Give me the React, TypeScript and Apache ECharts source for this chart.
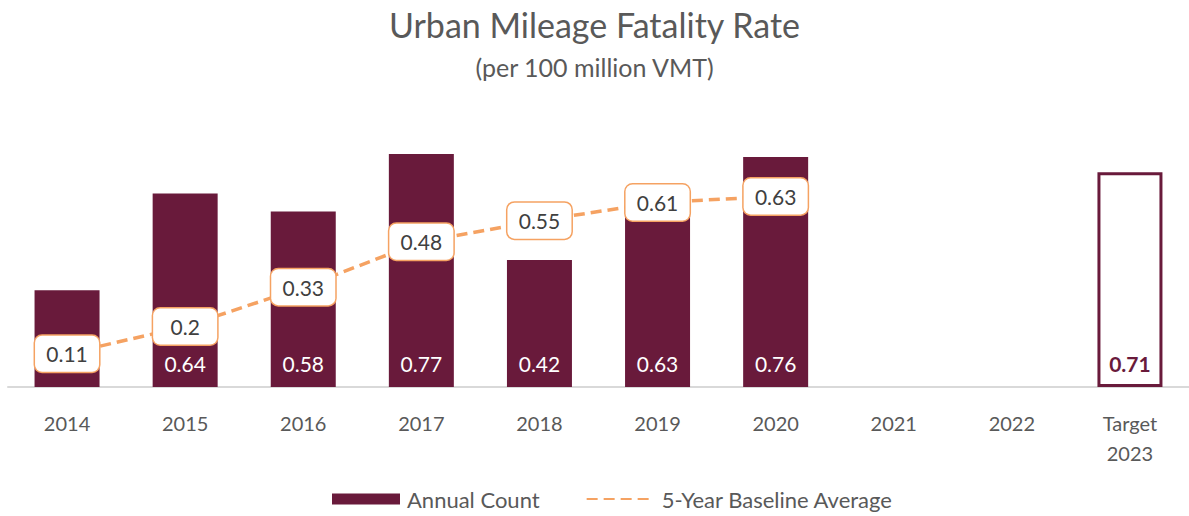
import React, { useEffect, useRef } from "react";
import * as echarts from "echarts";

const categories = ["2014", "2015", "2016", "2017", "2018", "2019", "2020", "2021", "2022", "Target\n2023"];
const annualRate = [0.32, 0.64, 0.58, 0.77, 0.42, 0.63, 0.76, null, null, 0.71];
const baselineAvg = [0.11, 0.2, 0.33, 0.48, 0.55, 0.61, 0.63, null, null, null];

const MAROON = "#691a3b";
const ORANGE = "#f5a262";
const FONT = "Lato, 'Open Sans', sans-serif";

export default function App() {
  const ref = useRef<HTMLDivElement>(null);
  useEffect(() => {
    if (!ref.current) return;
    const chart = echarts.init(ref.current, undefined, { renderer: "svg" });
    const last = annualRate.length - 1;
    const barData = annualRate.map((v, i) => {
      if (v === null) return null;
      if (i === last) {
        return {
          value: v,
          itemStyle: { color: "#ffffff", borderColor: MAROON, borderWidth: 3 },
          label: { color: MAROON, fontWeight: "bold" as const },
        };
      }
      if (i === 0) return { value: v, label: { show: false } };
      return { value: v };
    });
    chart.setOption({
      animation: false,
      textStyle: { fontFamily: FONT },
      title: [
        {
          text: "Urban Mileage Fatality Rate",
          left: "center",
          top: 2,
          textStyle: { fontFamily: FONT, fontSize: 34, fontWeight: "normal", color: "#595959" },
        },
        {
          text: "(per 100 million VMT)",
          left: "center",
          top: 49,
          textStyle: { fontFamily: FONT, fontSize: 25, fontWeight: "normal", color: "#595959" },
        },
      ],
      legend: {
        bottom: 1,
        left: 327,
        itemWidth: 68,
        itemHeight: 11,
        itemGap: 46,
        textStyle: { fontFamily: FONT, fontSize: 22, color: "#595959", padding: [0, 0, 0, 2] },
        data: [
          { name: "Annual Count", icon: "rect" },
          { name: "5-Year Baseline Average", itemStyle: { opacity: 0 } },
        ],
      },
      grid: { left: 8, width: 1188, top: 145, height: 242 },
      xAxis: {
        type: "category",
        data: categories,
        axisLine: { lineStyle: { color: "#d9d9d9", width: 2 } },
        axisTick: { show: false },
        axisLabel: { fontFamily: FONT, fontSize: 20, color: "#595959", margin: 21, lineHeight: 30 },
      },
      yAxis: { type: "value", min: 0, max: 0.8, show: false, splitLine: { show: false } },
      series: [
        {
          name: "Annual Count",
          type: "bar",
          data: barData,
          barWidth: 65,
          itemStyle: { color: MAROON },
          label: {
            show: true,
            position: "insideBottom",
            distance: 13,
            color: "#ffffff",
            fontSize: 21,
            fontFamily: FONT,
          },
        },
        {
          name: "5-Year Baseline Average",
          type: "line",
          data: baselineAvg,
          symbol: "circle",
          symbolSize: 1,
          lineStyle: { color: ORANGE, width: 3.5, type: [11, 6] },
          itemStyle: { color: ORANGE },
          label: {
            show: true,
            position: "inside",
            color: "#404040",
            fontSize: 21,
            fontFamily: FONT,
            backgroundColor: "#ffffff",
            borderColor: ORANGE,
            borderWidth: 1.5,
            borderRadius: 7,
            padding: [8, 10, 7, 10],
            width: 44,
            align: "center",
          },
        },
      ],
    });
    return () => chart.dispose();
  }, []);
  return (
    <div
      ref={ref}
      style={{ position: "fixed", left: 0, top: 0, width: 1189, height: 516, background: "#ffffff" }}
    />
  );
}
